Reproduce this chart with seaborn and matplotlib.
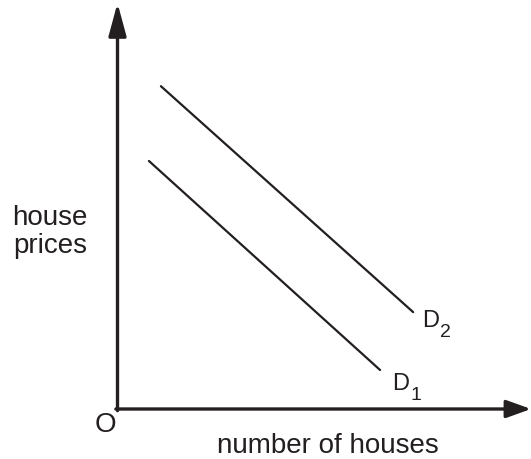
import matplotlib
matplotlib.use("Agg")
import matplotlib.pyplot as plt
import pandas as pd
import seaborn as sns

# demand curves (axis units: 0-100 along each axis)
d1_x = [7.6, 63.5]
d1_y = [61.7, 9.7]
d2_x = [10.5, 71.5]
d2_y = [80.3, 24.1]
curve_names = ["D", "D"]
curve_subs = ["1", "2"]
x_label = "number of houses"
y_label = "house prices"
origin_label = "O"

df = pd.DataFrame({
    "x": d1_x + d2_x,
    "y": d1_y + d2_y,
    "curve": [curve_subs[0]] * 2 + [curve_subs[1]] * 2,
})

sns.set_theme(style="white")
plt.rcParams["font.family"] = ["Liberation Sans", "DejaVu Sans"]

ink = "#231f20"

fig = plt.figure(figsize=(5.31, 4.59), dpi=100)
ax = fig.add_axes([117.5 / 531, 50 / 459, 413.5 / 531, 402 / 459])

sns.lineplot(data=df, x="x", y="y", units="curve", estimator=None,
             color=ink, lw=1.6, ax=ax, sort=False)

# axes with arrowheads
ax.annotate("", xy=(0, 101), xytext=(0, -0.4),
            arrowprops=dict(arrowstyle="-|>,head_length=1.0,head_width=0.27",
                            mutation_scale=20, lw=2.4, color=ink,
                            shrinkA=0, shrinkB=0), annotation_clip=False)
ax.annotate("", xy=(100, 0), xytext=(-0.4, 0),
            arrowprops=dict(arrowstyle="-|>,head_length=0.75,head_width=0.27",
                            mutation_scale=20, lw=2.4, color=ink,
                            shrinkA=0, shrinkB=0), annotation_clip=False)

# curve labels with subscripts
label_pos = [(d1_x[1] + 2.9, 4.7), (d2_x[1] + 2.1, 20.4)]
for (lx, ly), name, sub in zip(label_pos, curve_names, curve_subs):
    ax.text(lx, ly, name, fontsize=17, color=ink, ha="left", va="baseline")
    ax.annotate(sub, xy=(lx, ly), xytext=(13.2, -7.2),
                textcoords="offset points", fontsize=14, color=ink,
                ha="left", va="baseline", annotation_clip=False)

ax.text(-16.3, 44, y_label.replace(" ", "\n"), fontsize=20, color=ink,
        ha="center", va="center", linespacing=1.1, clip_on=False)
ax.text(-2.9, -4.0, origin_label, fontsize=20, color=ink,
        ha="center", va="center", clip_on=False)
ax.text(50.9, -10.9, x_label, fontsize=20, color=ink,
        ha="center", va="baseline", clip_on=False)

ax.set_xlim(0, 100)
ax.set_ylim(0, 100)
ax.set_xlabel("")
ax.set_ylabel("")
ax.set_xticks([])
ax.set_yticks([])
sns.despine(ax=ax, left=True, bottom=True)
ax.patch.set_alpha(0)

fig.savefig("out.png", dpi=100)
